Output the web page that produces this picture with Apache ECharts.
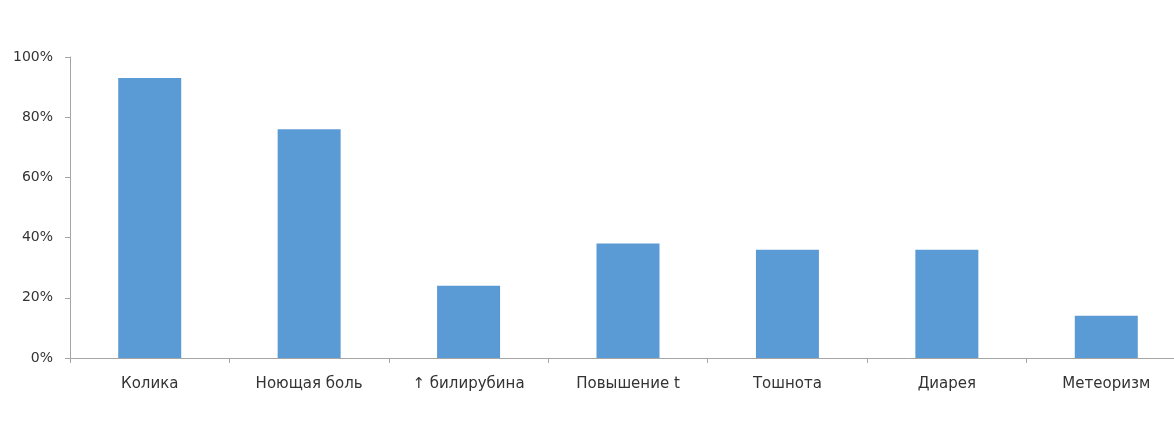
<!DOCTYPE html>
<html><head><meta charset="utf-8">
<script src="https://cdn.jsdelivr.net/npm/echarts@6/dist/echarts.min.js"></script>
<style>html,body{margin:0;padding:0;background:#fff;overflow:hidden;width:1174px;height:430px}#c{width:1200px;height:430px}</style>
</head><body><div id="c"></div>
<script>
const categories = ["Колика", "Ноющая боль", "↑ билирубина", "Повышение t", "Тошнота", "Диарея", "Метеоризм"];
const values = [93, 76, 24, 38, 36, 36, 14];
const yTicks = [0, 20, 40, 60, 80, 100];

const chart = echarts.init(document.getElementById('c'));
chart.setOption({
  animation: false,
  grid: { left: 70, top: 57, width: 1116, height: 301 },
  xAxis: {
    type: 'category', data: categories,
    axisLine: { lineStyle: { color: '#a6a6a6', width: 1 } },
    axisTick: { show: true, length: 5, lineStyle: { color: '#a6a6a6' } },
    axisLabel: { color: '#333333', fontSize: 15, fontFamily: 'DejaVu Sans', margin: 19, interval: 0 }
  },
  yAxis: {
    type: 'value', min: yTicks[0], max: yTicks[yTicks.length - 1], interval: 20,
    axisLine: { show: true, lineStyle: { color: '#a6a6a6', width: 1 } },
    axisTick: { show: true, length: 5, lineStyle: { color: '#a6a6a6' } },
    splitLine: { show: false },
    axisLabel: { color: '#333333', fontSize: 14, fontFamily: 'DejaVu Sans', margin: 17, formatter: '{value}%' }
  },
  series: [{
    type: 'bar', data: values, barWidth: 63,
    itemStyle: { color: '#5b9bd5' }
  }]
});
</script></body></html>
